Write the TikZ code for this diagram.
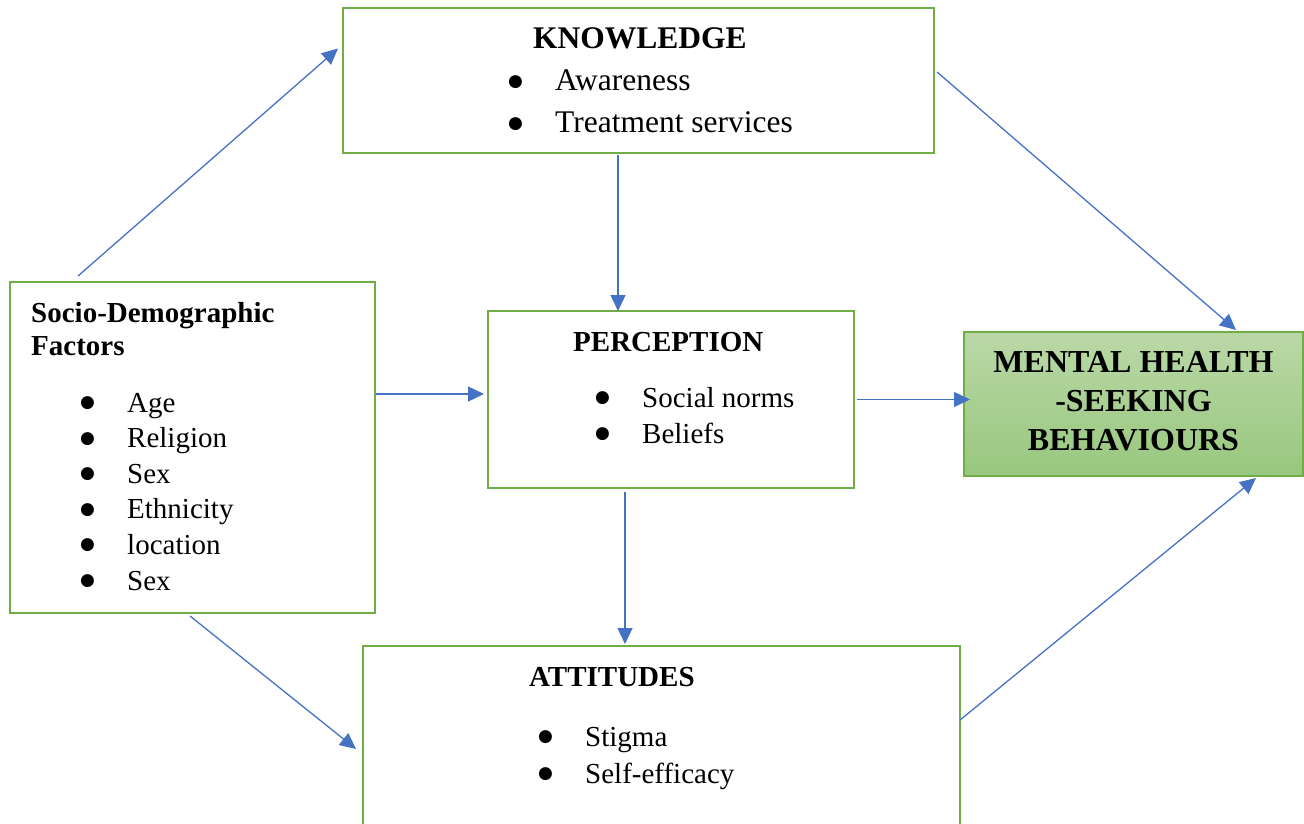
\documentclass[tikz,border=0pt]{standalone}
\usepackage{fontspec}
\setmainfont{Liberation Serif}
\newfontfamily\dejavu{DejaVu Sans}
\usetikzlibrary{arrows.meta}
\definecolor{boxgreen}{RGB}{112,173,71}
\definecolor{arrowblue}{RGB}{68,114,196}
\definecolor{mhtop}{RGB}{186,216,167}
\definecolor{mhbot}{RGB}{152,199,126}
\tikzset{
  box/.style={draw=boxgreen, line width=2.6pt, inner sep=0pt, outer sep=0pt},
  mhbox/.style={draw=boxgreen, line width=1.3pt, inner sep=0pt, outer sep=0pt, top color=mhtop, bottom color=mhbot},
  arr/.style={draw=arrowblue, line width=1.3pt, -{Triangle[length=16pt,width=15pt]}},
  txtA/.style={anchor=base west, inner sep=0pt, font=\fontsize{31.5}{42}\selectfont},
  txtB/.style={anchor=base west, inner sep=0pt, font=\fontsize{29}{36}\selectfont},
  ttlA/.style={anchor=base west, inner sep=0pt, font=\fontsize{31.5}{42}\selectfont\bfseries},
  ttlB/.style={anchor=base west, inner sep=0pt, font=\fontsize{29}{36}\selectfont\bfseries},
  ttlM/.style={anchor=base, inner sep=0pt, font=\fontsize{32}{39}\selectfont\bfseries},
}
\newcommand{\bul}[1]{\makebox[47pt][l]{\raisebox{4.5pt}{\dejavu\fontsize{17}{17}\selectfont ●}}#1}
\begin{document}
\begin{tikzpicture}[x=1pt,y=-1pt]
\useasboundingbox (0,0) rectangle (1304,824);
% boxes
\node[box, minimum width=591pt, minimum height=145pt] (know) at (638.5,80.5) {};
\node[box, minimum width=365pt, minimum height=331pt] (soc) at (192.5,447.5) {};
\node[box, minimum width=366pt, minimum height=177pt] (perc) at (671,399.5) {};
\node[mhbox, minimum width=339pt, minimum height=144pt] (mh) at (1133.5,404) {};
\node[box, minimum width=597pt, minimum height=188pt] (att) at (661.5,740) {};
% knowledge text
\node[ttlA] (kt) at (533,48.5) {KNOWLEDGE};
\node[txtA] (k1) at (508,91) {\bul{Awareness}};
\node[txtA] (k2) at (508,133) {\bul{Treatment services}};
% socio text
\node[ttlB] (st1) at (31,322) {Socio-Demographic};
\node[ttlB] (st2) at (31,355) {Factors};
\node[txtB] (s1) at (80,412) {\bul{Age}};
\node[txtB] (s2) at (80,447.5) {\bul{Religion}};
\node[txtB] (s3) at (80,483) {\bul{Sex}};
\node[txtB] (s4) at (80,518.5) {\bul{Ethnicity}};
\node[txtB] (s5) at (80,554) {\bul{location}};
\node[txtB] (s6) at (80,590) {\bul{Sex}};
% perception text
\node[ttlB] (pt) at (573,351) {PERCEPTION};
\node[txtB] (p1) at (595,407) {\bul{Social norms}};
\node[txtB] (p2) at (595,443) {\bul{Beliefs}};
% attitudes text
\node[ttlB] (at) at (529,686) {ATTITUDES};
\node[txtB] (a1) at (538,746) {\bul{Stigma}};
\node[txtB] (a2) at (538,783) {\bul{Self-efficacy}};
% MH text
\node[ttlM] (m1) at (1133.5,372) {MENTAL HEALTH};
\node[ttlM] (m2) at (1133.5,411) {-SEEKING};
\node[ttlM] (m3) at (1133.5,450) {BEHAVIOURS};
% arrows
\draw[arr] ([xshift=68pt,yshift=6pt]soc.north west) -- ([xshift=-5pt,yshift=32pt]know.west);
\draw[arr] ([xshift=-20.5pt,yshift=-2pt]know.south) -- ([xshift=-53pt]perc.north);
\draw[arr] ([xshift=3pt,yshift=8.5pt]know.east) -- ([xshift=102.5pt,yshift=2pt]mh.north);
\draw[arr] ([xshift=1pt,yshift=53.5pt]soc.east) -- ([xshift=-4pt,yshift=5.5pt]perc.west);
\draw[arr] ([xshift=3pt]perc.east) -- ([xshift=6pt,yshift=4.5pt]mh.west);
\draw[arr] ([xshift=-46pt,yshift=-4pt]perc.south) -- ([xshift=-36.5pt,yshift=2pt]att.north);
\draw[arr] ([xshift=-2.5pt,yshift=-3pt]soc.south) -- ([xshift=-7pt,yshift=-9pt]att.west);
\draw[arr] ([yshift=20pt]att.east) -- ([xshift=122.5pt,yshift=-2pt]mh.south);
\end{tikzpicture}
\end{document}
